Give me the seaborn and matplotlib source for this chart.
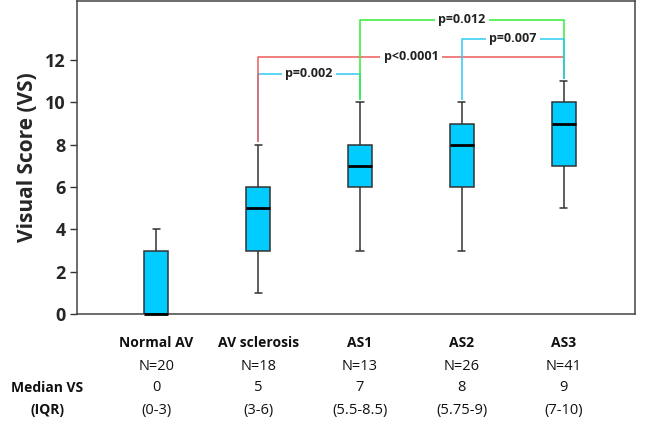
import numpy as np
import pandas as pd
import seaborn as sns
import matplotlib.pyplot as plt

# groups and box summaries
categories = ['Normal AV', 'AV sclerosis', 'AS1', 'AS2', 'AS3']
whisker_low = [0, 1, 3, 3, 5]
q1 = [0, 3, 6, 6, 7]
medians = [0, 5, 7, 8, 9]
q3 = [3, 6, 8, 9, 10]
whisker_high = [4, 8, 10, 10, 11]

# table under the plot
n_counts = ['N=20', 'N=18', 'N=13', 'N=26', 'N=41']
median_vs = ['0', '5', '7', '8', '9']
iqr_text = ['(0-3)', '(3-6)', '(5.5-8.5)', '(5.75-9)', '(7-10)']

# significance brackets: (left group, right group, bar height, label, colour)
br_left = [1, 1, 2, 3]
br_right = [2, 4, 4, 4]
br_height = [11.35, 12.15, 13.9, 13.0]
br_label = ['p=0.002', 'p<0.0001', 'p=0.012', 'p=0.007']
br_color = ['#2ccbf0', '#ee5a5a', '#33ee33', '#2ccbf0']

rows = []
for cat, a, b, c, d, e in zip(categories, whisker_low, q1, medians, q3, whisker_high):
    for v in (a, b, c, d, e):
        rows.append({'group': cat, 'VS': v})
df = pd.DataFrame(rows)

sns.set_style('white')
plt.rcParams['font.family'] = ['Open Sans', 'DejaVu Sans']

fig = plt.figure(figsize=(6.46, 4.21), dpi=100)
ax = fig.add_axes([0.119, 0.254, 0.864, 0.744])

sns.boxplot(data=df, x='group', y='VS', order=categories, ax=ax,
            color='#00ccff', saturation=1, width=0.235, whis=(0, 100),
            linecolor='#333333', linewidth=1.1, capwidths=0.07,
            medianprops={'color': 'black', 'linewidth': 2, 'zorder': 4,
                         'clip_on': False})

ax.set_xlim(-0.78, 4.7)
ax.set_ylim(0, 14.8)
ax.set_yticks([0, 2, 4, 6, 8, 10, 12])
ax.tick_params(axis='y', direction='out', length=5, width=1, color='#333333',
               labelsize=13, pad=3, left=True)
for t in ax.get_yticklabels():
    t.set_fontweight('bold')
ax.set_xticks([])
ax.set_xlabel('')
ax.set_ylabel('Visual Score (VS)', fontsize=15, fontweight='bold', labelpad=5)
for s in ax.spines.values():
    s.set_color('#444444')
    s.set_linewidth(1.1)

# brackets
for i in range(len(br_label)):
    x0, x1 = br_left[i], br_right[i]
    h = br_height[i]
    y0 = whisker_high[x0] + 0.12
    y1 = whisker_high[x1] + 0.12
    ax.plot([x0, x0, x1, x1], [y0, h, h, y1], color=br_color[i], lw=1.1,
            zorder=3, solid_capstyle='butt')
    ax.text((x0 + x1) / 2, h, br_label[i], ha='center', va='center',
            fontsize=9, fontweight='bold', color='#222222', zorder=4,
            bbox=dict(facecolor='white', edgecolor='none', pad=2.5))

# table below the axes
tr = ax.get_xaxis_transform()
for i, cat in enumerate(categories):
    ax.text(i, -0.093, cat, transform=tr, ha='center', va='center',
            fontsize=10, fontweight='bold', color='#111111', clip_on=False)
    ax.text(i, -0.166, n_counts[i], transform=tr, ha='center', va='center',
            fontsize=10.5, color='#111111', clip_on=False)
    ax.text(i, -0.236, median_vs[i], transform=tr, ha='center', va='center',
            fontsize=10.5, color='#111111', clip_on=False)
    ax.text(i, -0.307, iqr_text[i], transform=tr, ha='center', va='center',
            fontsize=10.5, color='#111111', clip_on=False)
fig.text(0.073, 1 - 388 / 421, 'Median VS', ha='center', va='center',
         fontsize=10, fontweight='bold', color='#111111')
fig.text(0.073, 1 - 410 / 421, '(IQR)', ha='center', va='center',
         fontsize=10, fontweight='bold', color='#111111')

fig.savefig('out.png', dpi=100)
